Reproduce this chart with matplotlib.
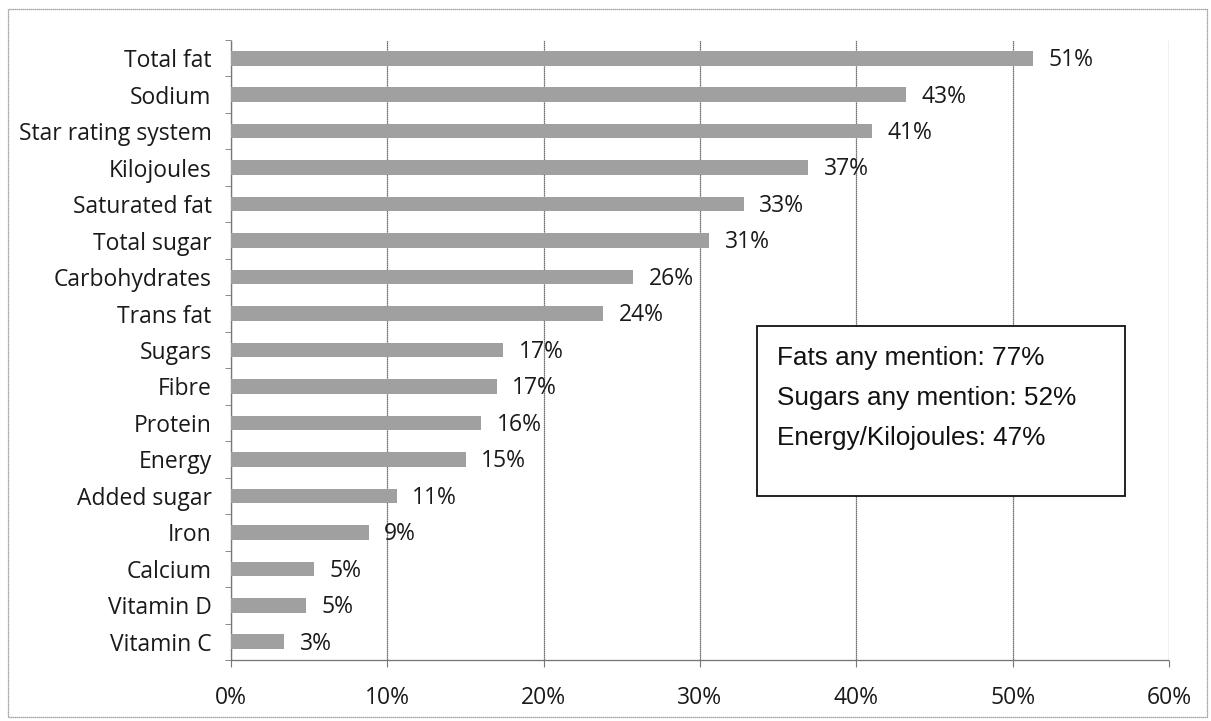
import matplotlib
matplotlib.use("Agg")
import matplotlib.pyplot as plt
from matplotlib.patches import Rectangle
import numpy as np

categories = ["Total fat", "Sodium", "Star rating system", "Kilojoules", "Saturated fat",
              "Total sugar", "Carbohydrates", "Trans fat", "Sugars", "Fibre", "Protein",
              "Energy", "Added sugar", "Iron", "Calcium", "Vitamin D", "Vitamin C"]
values = [51.3, 43.2, 41.0, 36.9, 32.8, 30.6, 25.7, 23.8, 17.4, 17.0, 16.0,
          15.0, 10.6, 8.8, 5.3, 4.8, 3.4]
value_labels = ["51%", "43%", "41%", "37%", "33%", "31%", "26%", "24%", "17%", "17%",
                "16%", "15%", "11%", "9%", "5%", "5%", "3%"]
xticks = [0, 10, 20, 30, 40, 50, 60]
box_lines = ["Fats any mention: 77%", "Sugars any mention: 52%", "Energy/Kilojoules: 47%"]

label_font = ["Open Sans", "DejaVu Sans"]
box_font = ["Liberation Sans", "DejaVu Sans"]

fig = plt.figure(figsize=(12.11, 7.21), dpi=100)
ax = fig.add_axes([231 / 1211, 1 - 660 / 721, 938 / 1211, 620 / 721])

y = np.arange(len(categories))
ax.barh(y, values, height=0.4, color="#a0a0a0", edgecolor="none", zorder=3)
for yi, v, lab in zip(y, values, value_labels):
    ax.text(v + 1.0, yi + 0.05, lab, va="center", ha="left", fontsize=16.5,
            family=label_font, color="#1a1a1a")

ax.set_ylim(len(categories) - 0.5, -0.5)
ax.set_xlim(0, 60)
ax.set_yticks(y)
ax.set_yticklabels(categories, fontsize=16.5, family=label_font, color="#1a1a1a")
ax.set_yticks(np.arange(-0.5, len(categories), 1), minor=True)
ax.tick_params(axis="y", which="major", length=0, pad=14)
ax.tick_params(axis="y", which="minor", length=4, color="#777777")
ax.set_xticks(xticks)
ax.set_xticklabels([f"{t}%" for t in xticks], fontsize=16.5, family=label_font, color="#1a1a1a")
ax.tick_params(axis="x", length=5, color="#777777", pad=14)

ax.grid(axis="x", color="#444444", linewidth=0.9, linestyle=(0, (1, 0.6)), zorder=0)
for s in ["top", "right"]:
    ax.spines[s].set_visible(False)
for s in ["left", "bottom"]:
    ax.spines[s].set_color("#777777")
    ax.spines[s].set_linewidth(0.9)
    ax.spines[s].set_linestyle((0, (1, 0.6)))

# summary box
ax.add_patch(Rectangle((0.561, 0.265), 0.392, 0.274, transform=ax.transAxes,
                       facecolor="white", edgecolor="#111111", linewidth=1.3, zorder=4))
for i, line in enumerate(box_lines):
    ax.text(0.582, 0.487 - i * 0.0645, line, transform=ax.transAxes, fontsize=18.8,
            family=box_font, va="center", ha="left", color="#111111", zorder=5)

# dotted border around the whole figure
fig.patches.append(Rectangle((8 / 1211, 4 / 721), 1199 / 1211, 708 / 721,
                             transform=fig.transFigure, fill=False,
                             edgecolor="#888888", linewidth=0.9, linestyle=(0, (1, 0.6))))

fig.savefig("out.png", dpi=100)
